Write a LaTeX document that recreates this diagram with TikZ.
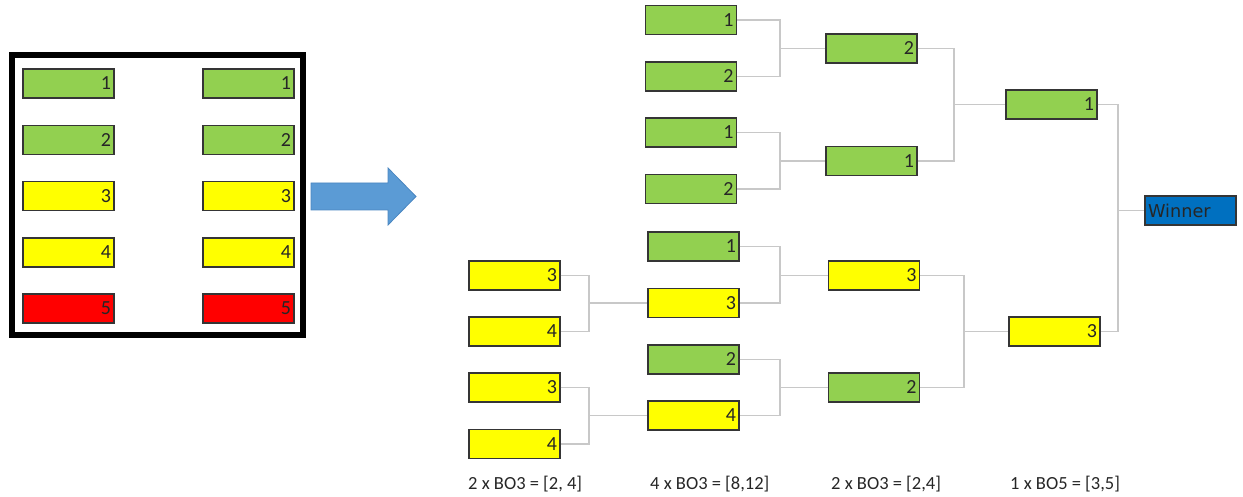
\documentclass[tikz,border=0pt]{standalone}
\usepackage{fontspec}
\setmainfont{Carlito}
\newfontfamily\winfont{DejaVu Sans}
\definecolor{cgreen}{HTML}{92D050}
\definecolor{cyellow}{HTML}{FFFF00}
\definecolor{cred}{HTML}{FF0000}
\definecolor{cblue}{HTML}{0070C0}
\definecolor{carrow}{HTML}{5B9BD5}
\definecolor{carrowline}{HTML}{4A86C0}
\definecolor{cline}{HTML}{C8C8C8}
\definecolor{cborder}{HTML}{353535}
\tikzset{
  teambox/.style={draw=cborder, line width=1.2pt, minimum width=91pt, minimum height=29pt,
    text width=85pt, align=right, inner sep=3pt, text=black!85,
    font=\fontsize{20}{22}\selectfont},
  gbox/.style={teambox, fill=cgreen},
  ybox/.style={teambox, fill=cyellow},
  rbox/.style={teambox, fill=cred},
  conn/.style={draw=cline, line width=1.5pt},
  roundlabel/.style={anchor=west, font=\fontsize{18.5}{20}\selectfont, text=black!85, inner sep=0pt},
}
\begin{document}
\begin{tikzpicture}[x=1pt, y=-1pt]
\useasboundingbox (0,0) rectangle (1243,497);
% left frame
\node[draw=black, line width=6pt, minimum width=291pt, minimum height=280pt, inner sep=0pt] (frame) at (157.5,195) {};
\node[gbox] (L1) at (68.5,83.5) {1};
\node[gbox] (L2) at (68.5,140) {2};
\node[ybox] (L3) at (68.5,196) {3};
\node[ybox] (L4) at (68.5,252.5) {4};
\node[rbox] (L5) at (68.5,308.5) {5};
\node[gbox] (R1) at (248.5,83.5) {1};
\node[gbox] (R2) at (248.5,140) {2};
\node[ybox] (R3) at (248.5,196) {3};
\node[ybox] (R4) at (248.5,252.5) {4};
\node[rbox] (R5) at (248.5,308.5) {5};
% block arrow
\draw[fill=carrow, draw=carrowline, line width=0.8pt] (311,183) -- (388,183) -- (388,168) -- (416,196.5) -- (388,225) -- (388,210) -- (311,210) -- cycle;
% column A
\node[ybox] (A1) at (514.5,275.5) {3};
\node[ybox] (A2) at (514.5,331.5) {4};
\node[ybox] (A3) at (514.5,387.5) {3};
\node[ybox] (A4) at (514.5,444) {4};
% column B
\node[gbox] (B1) at (691,20) {1};
\node[gbox] (B2) at (691,76.5) {2};
\node[gbox] (B3) at (691,132.5) {1};
\node[gbox] (B4) at (691,189) {2};
\node[gbox] (B5) at (693.5,246.5) {1};
\node[ybox] (B6) at (693.5,303) {3};
\node[gbox] (B7) at (693.5,359.5) {2};
\node[ybox] (B8) at (693.5,415.5) {4};
% column C
\node[gbox] (C1) at (871.5,48.5) {2};
\node[gbox] (C2) at (871.5,161) {1};
\node[ybox] (C3) at (874,275.5) {3};
\node[gbox] (C4) at (874,387.5) {2};
% column D
\node[gbox] (D1) at (1051.5,104.5) {1};
\node[ybox] (D2) at (1054.5,331.5) {3};
% winner
\node[draw=cborder, line width=1.2pt, fill=cblue, minimum width=91pt, minimum height=29pt,
  text width=85pt, align=left, inner sep=3pt, text=black!85,
  font=\winfont\fontsize{17.7}{20}\selectfont] (W) at (1190.5,210.5) {Winner};
% junctions
\coordinate (jA1) at (589,303);
\coordinate (jA2) at (589,415.5);
\coordinate (jB1) at (780,48.5);
\coordinate (jB2) at (780,161);
\coordinate (jB3) at (780,275.5);
\coordinate (jB4) at (780,387.5);
\coordinate (jC1) at (954,104.5);
\coordinate (jC2) at (964,331.5);
\coordinate (jD) at (1118,210.5);
% connectors
\draw[conn] (A1.east) -| (jA1) |- (A2.east);
\draw[conn] (jA1) -- (B6.west);
\draw[conn] (A3.east) -| (jA2) |- (A4.east);
\draw[conn] (jA2) -- (B8.west);
\draw[conn] (B1.east) -| (jB1) |- (B2.east);
\draw[conn] (jB1) -- (C1.west);
\draw[conn] (B3.east) -| (jB2) |- (B4.east);
\draw[conn] (jB2) -- (C2.west);
\draw[conn] (B5.east) -| (jB3) |- (B6.east);
\draw[conn] (jB3) -- (C3.west);
\draw[conn] (B7.east) -| (jB4) |- (B8.east);
\draw[conn] (jB4) -- (C4.west);
\draw[conn] (C1.east) -| (jC1) |- (C2.east);
\draw[conn] (jC1) -- (D1.west);
\draw[conn] (C3.east) -| (jC2) |- (C4.east);
\draw[conn] (jC2) -- (D2.west);
\draw[conn] (D1.east) -| (jD) |- (D2.east);
\draw[conn] (jD) -- (W.west);
% round labels
\node[roundlabel] (t1) at (468,484) {2 x BO3 = [2, 4]};
\node[roundlabel] (t2) at (650,484) {4 x BO3 = [8,12]};
\node[roundlabel] (t3) at (831,484) {2 x BO3 = [2,4]};
\node[roundlabel] (t4) at (1010,484) {1 x BO5 = [3,5]};
\end{tikzpicture}
\end{document}
